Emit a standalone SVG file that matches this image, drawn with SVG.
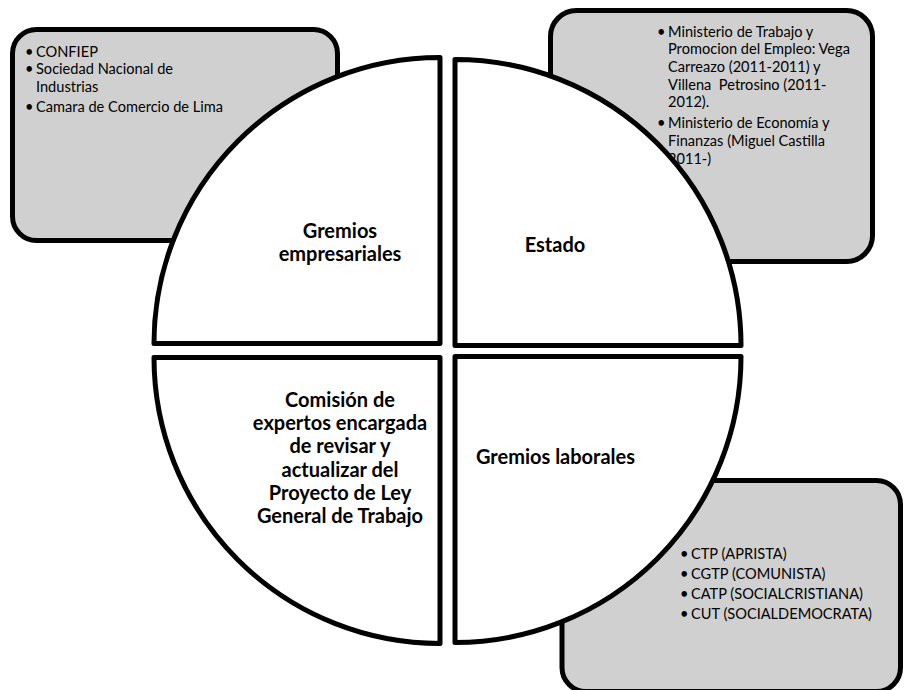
<svg xmlns="http://www.w3.org/2000/svg" width="904" height="690" viewBox="0 0 904 690">
<style>
.box{fill:#d0d0d0;stroke:#000;stroke-width:5}
.q{fill:#fff;stroke:#000;stroke-width:5;stroke-linejoin:round}
.t{font-family:Lato,"Liberation Sans",sans-serif;font-size:14.6px;fill:#000}
.b{font-family:Lato,"Liberation Sans",sans-serif;font-size:20px;font-weight:bold;fill:#000;text-anchor:middle}
</style>
<rect width="904" height="690" fill="#fff"/>
<g id="box-empresariales">
<rect class="box" x="12.5" y="29.5" width="325" height="211" rx="24"/>
<text class="t" x="25" y="56.7">•</text>
<text class="t" x="36" y="56.7">CONFIEP</text>
<text class="t" x="25" y="74.3">•</text>
<text class="t" x="36" y="74.3">Sociedad Nacional de</text>
<text class="t" x="36" y="91.7">Industrias</text>
<text class="t" x="25" y="111.7">•</text>
<text class="t" x="36" y="111.7">Camara de Comercio de Lima</text>
</g>
<g id="box-estado">
<rect class="box" x="550.5" y="10.5" width="322" height="251" rx="26"/>
<text class="t" x="657" y="36.7">•</text>
<text class="t" x="668" y="36.7">Ministerio de Trabajo y</text>
<text class="t" x="668" y="54.3">Promocion del Empleo: Vega</text>
<text class="t" x="668" y="71.9">Carreazo (2011-2011) y</text>
<text class="t" x="668" y="89.5" xml:space="preserve">Villena  Petrosino (2011-</text>
<text class="t" x="668" y="107.1">2012).</text>
<text class="t" x="657" y="128.3">•</text>
<text class="t" x="668" y="128.3">Ministerio de Economía y</text>
<text class="t" x="668" y="145.9">Finanzas (Miguel Castilla</text>
<text class="t" x="668" y="163.5">2011-)</text>
</g>
<g id="box-laborales">
<rect class="box" x="562" y="480.5" width="338.5" height="211" rx="24"/>
<text class="t" x="680" y="559">•</text>
<text class="t" x="691" y="559">CTP (APRISTA)</text>
<text class="t" x="680" y="579">•</text>
<text class="t" x="691" y="579">CGTP (COMUNISTA)</text>
<text class="t" x="680" y="599">•</text>
<text class="t" x="691" y="599">CATP (SOCIALCRISTIANA)</text>
<text class="t" x="680" y="619">•</text>
<text class="t" x="691" y="619">CUT (SOCIALDEMOCRATA)</text>
</g>
<g id="q-gremios-empresariales">
<path class="q" d="M440,343.5 L154,343.5 A286,286 0 0 1 440,57.5 Z"/>
<text class="b" x="340" y="238">Gremios</text>
<text class="b" x="340" y="261">empresariales</text>
</g>
<g id="q-estado">
<path class="q" d="M455,345.5 L455,59.5 A286,286 0 0 1 741,345.5 Z"/>
<text class="b" x="555" y="252">Estado</text>
</g>
<g id="q-comision">
<path class="q" d="M440,357.5 L440,643.5 A286,286 0 0 1 154,357.5 Z"/>
<text class="b" x="340" y="407">Comisión de</text>
<text class="b" x="340" y="430.2">expertos encargada</text>
<text class="b" x="340" y="453.4">de revisar y</text>
<text class="b" x="340" y="476.6">actualizar del</text>
<text class="b" x="340" y="499.8">Proyecto de Ley</text>
<text class="b" x="340" y="523">General de Trabajo</text>
</g>
<g id="q-gremios-laborales">
<path class="q" d="M455,356.5 L741,356.5 A286,286 0 0 1 455,642.5 Z"/>
<text class="b" x="555.5" y="464">Gremios laborales</text>
</g>
<g id="connectors"/>
</svg>
